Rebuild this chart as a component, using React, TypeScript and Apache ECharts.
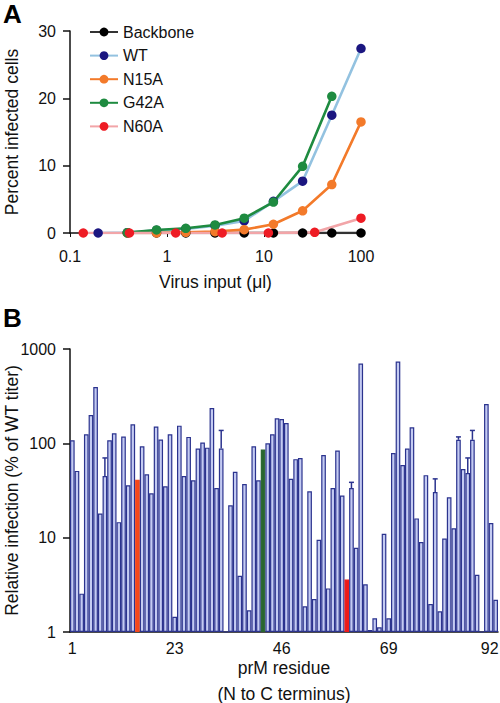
import React, { useEffect, useRef } from "react";
import * as echarts from "echarts";

// ---------- Panel A data ----------
const BACKBONE_X = [0.39, 0.78, 1.5625, 3.125, 6.25, 12.5, 25, 50, 100];
const BACKBONE_Y = [0, 0, 0, 0, 0, 0, 0, 0, 0];
const WT_X = [0.195, 0.39, 0.78, 1.5625, 3.125, 6.25, 12.5, 25, 50, 100];
const WT_Y = [0, 0.05, 0.4, 0.6, 1.1, 1.8, 4.7, 7.7, 17.5, 27.4];
const N15A_X = [0.39, 0.78, 1.5625, 3.125, 6.25, 12.5, 25, 50, 100];
const N15A_Y = [0, 0, 0.1, 0.2, 0.5, 1.3, 3.3, 7.2, 16.5];
const G42A_X = [0.39, 0.78, 1.5625, 3.125, 6.25, 12.5, 25, 50];
const G42A_Y = [0.05, 0.45, 0.7, 1.2, 2.2, 4.6, 9.9, 20.3];
const N60A_X = [0.137, 0.41, 1.23, 3.7, 11.1, 33.3, 100];
const N60A_Y = [0, 0, 0, 0, 0, 0.1, 2.2];
const A_Y_TICKS = [0, 10, 20, 30];

// ---------- Panel B data ----------
const RESIDUES = Array.from({ length: 92 }, (_, i) => String(i + 1));
const B_LABELS = ["1", "23", "46", "69", "92"];
const INFECTION = [
  108, 51, 2.55, 125, 200, 395, 18, 45, 108, 128,
  14.6, 118, 36, 159, 41, 93, 47, 29.5, 151, 110,
  35, 125, 1.45, 154, 45, 117, 40.5, 88, 102, 90,
  237, 33.6, 88, 1, 22, 50, 3.95, 37, 1.7, 93,
  40.5, 86, 100, 125, 184, 181, 164, 42, 68, 70,
  1.87, 31, 2.24, 9.5, 75, 2.9, 33.6, 84, 28, 3.6,
  33.6, 7.8, 700, 3.2, 1.05, 1.4, 1.12, 11, 1.4, 79,
  735, 59, 88, 148, 16, 9, 46, 1.98, 30.5, 1.66,
  9.8, 26.8, 12.6, 109, 53.5, 48.5, 109, 4.05, 1, 261,
  14.3, 2.2,
];
const ERR_RESIDUE = [8, 33, 61, 79, 84, 86, 87];
const ERR_UPPER = [70, 137, 38.6, 42, 117, 70, 137];
const HIGHLIGHT_RESIDUE = [15, 42, 60];
const HIGHLIGHT_COLOR = ["#f4481c", "#2a6630", "#ee1a1a"];

const FONT = "'Liberation Sans', Arial, Helvetica, sans-serif";
const BAR_FILL = "#c4cbf2";
const BAR_EDGE = "#2b338e";
const TICK_FS = 16;
const NAME_FS = 17.5;

export default function App() {
  const ref = useRef<HTMLDivElement>(null);
  useEffect(() => {
    if (!ref.current) return;
    const chart = echarts.init(ref.current, undefined, { renderer: "svg" });

    const pairs = (xs: number[], ys: number[]) => xs.map((x, i) => [x, ys[i]]);
    const lineSeries = (name: string, xs: number[], ys: number[], line: string, marker: string) => ({
      name,
      type: "line",
      xAxisIndex: 0,
      yAxisIndex: 0,
      data: pairs(xs, ys),
      symbol: "circle",
      symbolSize: 9.5,
      showSymbol: true,
      lineStyle: { color: line, width: 2.6 },
      itemStyle: { color: marker, borderWidth: 0 },
      z: 3,
    });

    const barData = INFECTION.map((v, i) => {
      const h = HIGHLIGHT_RESIDUE.indexOf(i + 1);
      if (h >= 0) {
        return { value: v, itemStyle: { color: HIGHLIGHT_COLOR[h], borderColor: HIGHLIGHT_COLOR[h] } };
      }
      return v;
    });

    const errData = ERR_RESIDUE.map((r, i) => [r - 1, INFECTION[r - 1], ERR_UPPER[i]]);

    const axisLabelStyle = { color: "#111", fontSize: TICK_FS, fontFamily: FONT };
    const nameStyle = { fontSize: NAME_FS, color: "#111", fontFamily: FONT };

    chart.setOption({
      animation: false,
      backgroundColor: "#fff",
      textStyle: { fontFamily: FONT },
      graphic: [
        { type: "text", left: 3, top: 1, style: { text: "A", font: `bold 26px ${FONT}`, fill: "#000" } },
        { type: "text", left: 3, top: 305, style: { text: "B", font: `bold 26px ${FONT}`, fill: "#000" } },
      ],
      legend: {
        orient: "vertical",
        left: 84,
        top: 19,
        itemWidth: 28,
        itemHeight: 11,
        itemGap: 7.6,
        textStyle: { fontSize: 16, color: "#111", fontFamily: FONT },
        data: ["Backbone", "WT", "N15A", "G42A", "N60A"],
      },
      grid: [
        { left: 70, top: 31, width: 291, height: 202, outerBoundsMode: "none", containLabel: false },
        { left: 70, top: 349, width: 428, height: 283, outerBoundsMode: "none", containLabel: false },
      ],
      xAxis: [
        {
          gridIndex: 0,
          type: "log",
          logBase: 10,
          min: 0.1,
          max: 100,
          axisLine: { show: true, lineStyle: { color: "#111", width: 1.5 } },
          axisTick: { show: true, length: 4, lineStyle: { color: "#111" } },
          minorTick: { show: false },
          splitLine: { show: false },
          axisLabel: { ...axisLabelStyle, margin: 15, formatter: (v: number) => String(v) },
          name: "Virus input (\u03bcl)",
          nameLocation: "middle",
          nameGap: 40,
          nameMoveOverlap: false,
          nameTextStyle: nameStyle,
        },
        {
          gridIndex: 1,
          type: "category",
          data: RESIDUES,
          boundaryGap: true,
          axisLine: { show: true, onZero: false, lineStyle: { color: "#111", width: 1.5 } },
          axisTick: { show: false },
          splitLine: { show: false },
          axisLabel: {
            ...axisLabelStyle,
            margin: 8,
            interval: (_i: number, v: string) => B_LABELS.indexOf(v) >= 0,
            formatter: (v: string) => (v === "92" ? "{r|" + v + "}" : v),
            rich: { r: { ...axisLabelStyle, padding: [0, 12, 0, 0] } },
          },
          name: "prM residue\n(N to C terminus)",
          nameLocation: "middle",
          nameGap: 23,
          nameMoveOverlap: false,
          nameTextStyle: { ...nameStyle, lineHeight: 26 },
        },
      ],
      yAxis: [
        {
          gridIndex: 0,
          type: "value",
          min: A_Y_TICKS[0],
          max: A_Y_TICKS[A_Y_TICKS.length - 1],
          interval: 10,
          axisLine: { show: true, lineStyle: { color: "#111", width: 1.5 } },
          axisTick: { show: true, length: 7, lineStyle: { color: "#111", width: 1.5 } },
          splitLine: { show: false },
          axisLabel: { ...axisLabelStyle, margin: 14 },
          name: "Percent infected cells",
          nameLocation: "middle",
          nameGap: 49,
          nameRotate: 90,
          nameMoveOverlap: false,
          nameTextStyle: nameStyle,
        },
        {
          gridIndex: 1,
          type: "log",
          logBase: 10,
          min: 1,
          max: 1000,
          axisLine: { show: true, onZero: false, lineStyle: { color: "#111", width: 1.5 } },
          axisTick: { show: true, length: 7, lineStyle: { color: "#111", width: 1.5 } },
          minorTick: { show: false },
          splitLine: { show: false },
          axisLabel: { ...axisLabelStyle, margin: 14, formatter: (v: number) => String(Math.round(v)) },
          name: "Relative infection (% of WT titer)",
          nameLocation: "middle",
          nameGap: 49,
          nameRotate: 90,
          nameMoveOverlap: false,
          nameTextStyle: nameStyle,
        },
      ],
      series: [
        lineSeries("Backbone", BACKBONE_X, BACKBONE_Y, "#333333", "#000000"),
        lineSeries("WT", WT_X, WT_Y, "#93c2e0", "#1b1680"),
        lineSeries("N15A", N15A_X, N15A_Y, "#f37a2a", "#f37a2a"),
        lineSeries("G42A", G42A_X, G42A_Y, "#1e8b40", "#1e8b40"),
        lineSeries("N60A", N60A_X, N60A_Y, "#f2a5a8", "#ee1c24"),
        {
          name: "infection",
          type: "bar",
          xAxisIndex: 1,
          yAxisIndex: 1,
          data: barData,
          barCategoryGap: "0%",
          itemStyle: { color: BAR_FILL, borderColor: BAR_EDGE, borderWidth: 1.2 },
        },
        {
          name: "error",
          type: "custom",
          xAxisIndex: 1,
          yAxisIndex: 1,
          data: errData,
          encode: { x: 0, y: 2 },
          renderItem: (_p: any, api: any) => {
            const idx = api.value(0);
            const p1 = api.coord([idx, api.value(1)]);
            const p2 = api.coord([idx, api.value(2)]);
            return {
              type: "group",
              children: [
                { type: "line", shape: { x1: p1[0], y1: p1[1], x2: p2[0], y2: p2[1] }, style: { stroke: BAR_EDGE, lineWidth: 1.5 } },
                { type: "line", shape: { x1: p2[0] - 2.5, y1: p2[1], x2: p2[0] + 2.5, y2: p2[1] }, style: { stroke: BAR_EDGE, lineWidth: 1.5 } },
              ],
            };
          },
          z: 5,
        },
      ],
    });
    return () => chart.dispose();
  }, []);
  return <div ref={ref} style={{ position: "fixed", left: 0, top: 0, width: 500, height: 703 }} />;
}
